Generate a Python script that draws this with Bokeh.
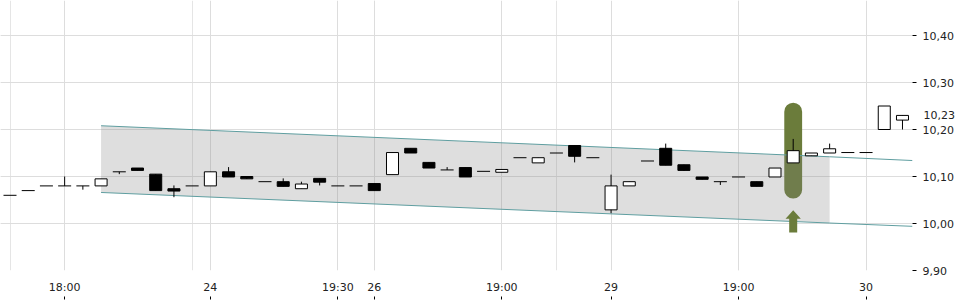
from bokeh.plotting import figure
from bokeh.models import (FixedTicker, LinearAxis, Range1d, BoxAnnotation, Label,
                          ColumnDataSource, Grid, CustomJSTickFormatter, CustomLabelingPolicy)
from bokeh.embed import file_html
from bokeh.resources import INLINE

# ---------------- data ----------------
opens  = [10.060, 10.070, 10.080, 10.080, 10.080, 10.080, 10.110, 10.118, 10.105, 10.074,
          10.080, 10.080, 10.110, 10.100, 10.089, 10.089, 10.074, 10.096, 10.080, 10.080,
          10.085, 10.104, 10.160, 10.130, 10.114, 10.119, 10.111, 10.109, 10.140, 10.129,
          10.150, 10.166, 10.140, 10.029, 10.080, 10.133, 10.160, 10.125, 10.099, 10.089,
          10.099, 10.089, 10.099, 10.129, 10.144, 10.150, 10.151, 10.151, 10.200, 10.220]
highs  = [10.060, 10.070, 10.080, 10.100, 10.080, 10.095, 10.110, 10.118, 10.105, 10.081,
          10.080, 10.110, 10.120, 10.100, 10.089, 10.096, 10.089, 10.096, 10.080, 10.080,
          10.085, 10.151, 10.160, 10.130, 10.120, 10.119, 10.111, 10.115, 10.140, 10.140,
          10.150, 10.166, 10.140, 10.104, 10.089, 10.133, 10.170, 10.125, 10.099, 10.089,
          10.099, 10.089, 10.118, 10.180, 10.150, 10.170, 10.151, 10.151, 10.250, 10.230]
lows   = [10.060, 10.070, 10.080, 10.080, 10.072, 10.080, 10.105, 10.113, 10.070, 10.056,
          10.080, 10.080, 10.099, 10.095, 10.089, 10.079, 10.074, 10.081, 10.080, 10.080,
          10.070, 10.104, 10.150, 10.118, 10.114, 10.099, 10.111, 10.109, 10.140, 10.129,
          10.150, 10.130, 10.140, 10.022, 10.080, 10.133, 10.124, 10.112, 10.094, 10.082,
          10.099, 10.079, 10.099, 10.129, 10.144, 10.150, 10.151, 10.151, 10.200, 10.200]
closes = [10.060, 10.070, 10.080, 10.080, 10.080, 10.095, 10.110, 10.113, 10.070, 10.069,
          10.080, 10.110, 10.099, 10.095, 10.089, 10.079, 10.084, 10.088, 10.080, 10.080,
          10.070, 10.151, 10.150, 10.118, 10.114, 10.099, 10.111, 10.115, 10.140, 10.140,
          10.150, 10.143, 10.140, 10.080, 10.089, 10.133, 10.124, 10.113, 10.094, 10.089,
          10.099, 10.079, 10.118, 10.155, 10.150, 10.159, 10.151, 10.151, 10.250, 10.230]

x_tick_idx = [3, 11, 18, 20, 27, 33, 40, 47]
x_tick_labels = ["18:00", "24", "19:30", "26", "19:00", "29", "19:00", "30"]
y_ticks = [9.90, 10.00, 10.10, 10.20, 10.30, 10.40]
last_price = 10.23

channel_x = [5, 45, 49.55]
channel_upper = [10.208, 10.142, 10.134]
channel_lower = [10.066, 10.001, 9.994]

signal_idx = 43
signal_top = 10.257
signal_bottom = 10.053
arrow_tip = 10.028
arrow_head_base = 10.010
arrow_bottom = 9.981

GREEN = "#6b7c3b"
FONT = "DejaVu Sans"

# ---------------- figure ----------------
n = len(closes)
x_start, x_end = -0.522, 49.55
p = figure(frame_width=912, frame_height=270,
           x_range=Range1d(x_start, x_end), y_range=Range1d(9.90, 10.4745),
           output_backend="svg", toolbar_location=None,
           x_axis_location=None, y_axis_location=None,
           min_border=0, min_border_right=48, min_border_bottom=30)
p.outline_line_color = None
p.background_fill_color = "white"

# grids
p.add_layout(Grid(dimension=0, ticker=FixedTicker(ticks=x_tick_idx),
                  grid_line_color="#dddddd"))
p.add_layout(Grid(dimension=1, ticker=FixedTicker(ticks=y_ticks),
                  grid_line_color="#dddddd"))

# highlight bar (rounded)
p.add_layout(BoxAnnotation(left=signal_idx - 0.49, right=signal_idx + 0.49,
                           top=signal_top, bottom=signal_bottom,
                           fill_color=GREEN, fill_alpha=1.0, line_color=None,
                           border_radius=9, level="underlay"))

# channel shading
p.varea(x=channel_x[:2], y1=channel_lower[:2], y2=channel_upper[:2],
        fill_color="#7f7f7f", fill_alpha=0.26)
p.line(channel_x, channel_upper, line_color="#5f9ea0", line_width=1)
p.line(channel_x, channel_lower, line_color="#5f9ea0", line_width=1)

# arrow
hw, sw = 0.42, 0.22
p.patch([signal_idx - hw, signal_idx, signal_idx + hw, signal_idx + sw, signal_idx + sw,
         signal_idx - sw, signal_idx - sw],
        [arrow_head_base, arrow_tip, arrow_head_base, arrow_head_base, arrow_bottom,
         arrow_bottom, arrow_head_base],
        fill_color=GREEN, line_color=None)

# candles
idx = list(range(n))
wick = ColumnDataSource(dict(x=idx, h=highs, l=lows))
p.segment(x0="x", y0="l", x1="x", y1="h", source=wick, line_color="black", line_width=1)

up = [i for i in idx if closes[i] > opens[i]]
dn = [i for i in idx if closes[i] < opens[i]]
fl = [i for i in idx if closes[i] == opens[i]]
bw = 0.66
p.vbar(x=up, top=[closes[i] for i in up], bottom=[opens[i] for i in up], width=bw,
       fill_color="white", line_color="black", line_width=1)
p.vbar(x=dn, top=[opens[i] for i in dn], bottom=[closes[i] for i in dn], width=bw,
       fill_color="black", line_color="black", line_width=1)
p.scatter(x=fl, y=[closes[i] for i in fl], marker="dash", size=13,
          line_color="black", line_width=1)

# axes
fmt = CustomJSTickFormatter(code="return tick.toFixed(2).replace('.', ',');")
yaxis = LinearAxis(ticker=FixedTicker(ticks=y_ticks), formatter=fmt,
                   axis_line_color=None, major_tick_out=4, major_tick_in=0,
                   major_tick_line_color="black", minor_tick_line_color=None,
                   major_label_standoff=6, major_label_text_font=FONT,
                   major_label_text_font_size="11px", major_label_text_color="#222222")
p.add_layout(yaxis, "right")

xaxis = LinearAxis(ticker=FixedTicker(ticks=x_tick_idx),
                   major_label_overrides={i: t for i, t in zip(x_tick_idx, x_tick_labels)},
                   axis_line_color=None, major_tick_out=0, major_tick_in=0,
                   minor_tick_line_color=None, major_label_standoff=10,
                   major_label_text_font=FONT, major_label_text_font_size="11px",
                   major_label_text_color="#222222")
p.add_layout(xaxis, "below")
no_labels = CustomLabelingPolicy(code="""
const all = [...indices];
for (const i of all) indices.unset(i);
return indices;
""")
xaxis2 = LinearAxis(ticker=FixedTicker(ticks=x_tick_idx),
                    axis_line_color=None, major_tick_out=3, major_tick_in=0,
                    major_tick_line_color="black", minor_tick_line_color=None,
                    major_label_standoff=0, major_label_policy=no_labels)
p.add_layout(xaxis2, "below")

# last price label
px_per_unit = 912 / (x_end - x_start)
p.add_layout(Label(x=x_start + 923 / px_per_unit, y=last_price,
                   text=f"{last_price:.2f}".replace(".", ","),
                   text_baseline="middle", text_align="left",
                   text_font=FONT, text_font_size="11px", text_color="#222222"), "right")

open("out.html", "w").write(file_html(p, INLINE))
